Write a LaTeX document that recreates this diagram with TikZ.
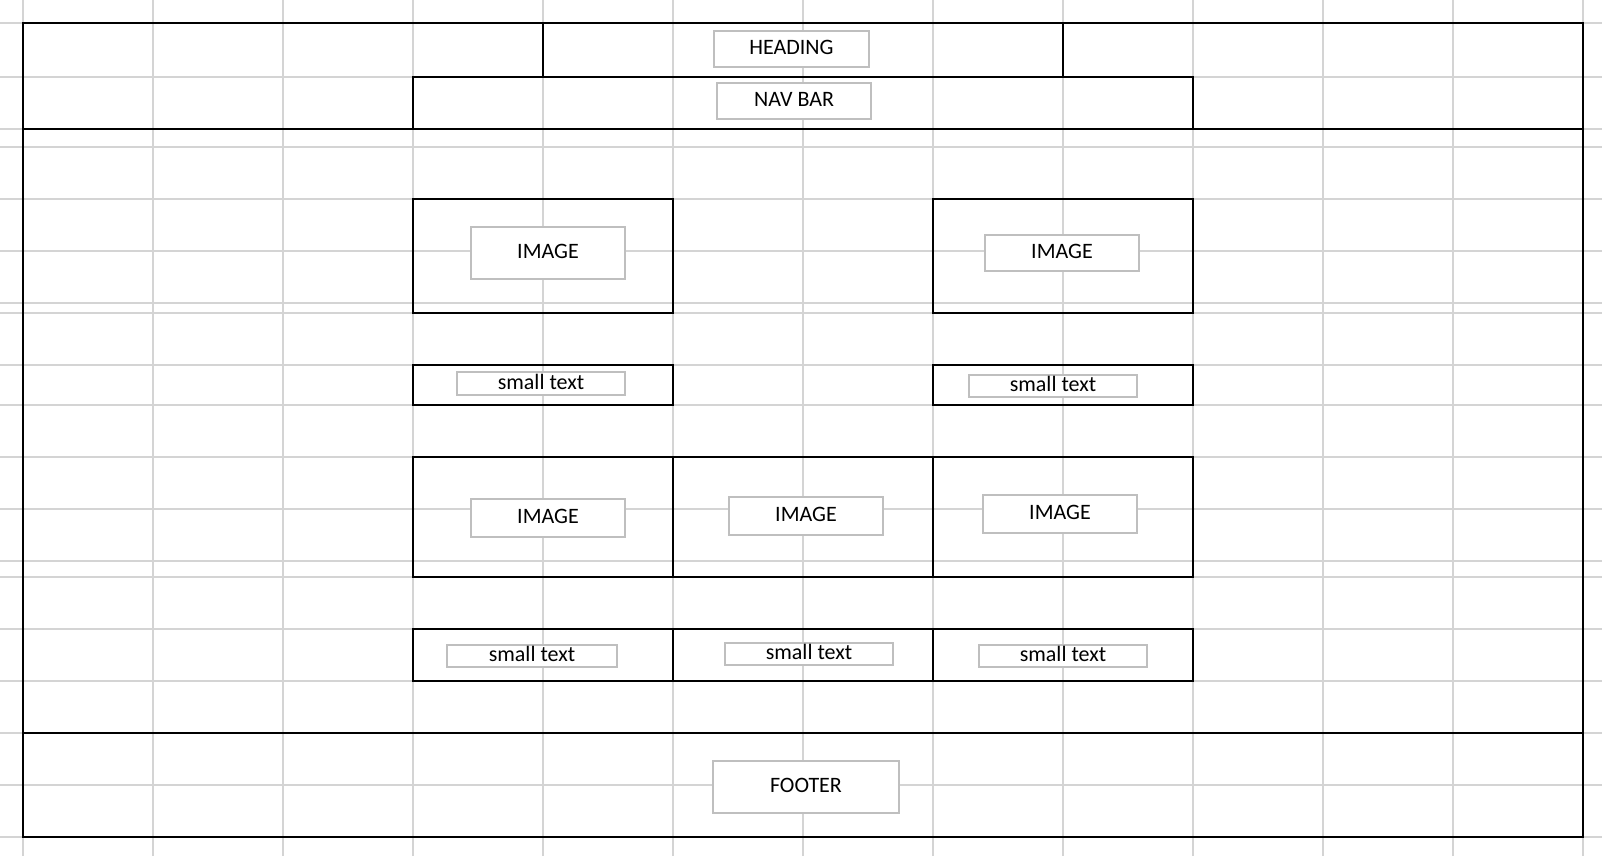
\documentclass[tikz,border=0pt]{standalone}
\usepackage{fontspec}
\setmainfont{Carlito}
\definecolor{gridgray}{RGB}{212,212,212}
\definecolor{boxgray}{RGB}{191,191,191}
\begin{document}
\begin{tikzpicture}[x=0.5pt,y=-0.5pt,
  grid/.style={draw=gridgray,line width=0.7pt},
  cell/.style={draw=black,line width=1.05pt},
  tbox/.style={draw=boxgray,fill=white,line width=0.75pt,inner sep=0pt,
    text depth=2pt,font=\fontsize{11pt}{12pt}\selectfont,text=black},
]
\useasboundingbox (0,0) rectangle (1602,856);
\fill[white] (0,0) rectangle (1602,856);
% spreadsheet grid
\foreach \k in {0,...,12} \draw[grid] ({23+130*\k},0) -- ({23+130*\k},856);
\foreach \yy in {23,77,129,147,199,251,303,313,365,405,457,509,561,577,629,681,733,785,837}
  \draw[grid] (0,\yy) -- (1602,\yy);
% black cell borders
\draw[cell] (23,23) rectangle (1583,837);
\draw[cell] (543,23) -- (543,77) (1063,23) -- (1063,77);
\draw[cell] (413,129) -- (413,77) -- (1193,77) -- (1193,129);
\draw[cell] (23,129) -- (1583,129);
\draw[cell] (413,199) rectangle (673,313);
\draw[cell] (933,199) rectangle (1193,313);
\draw[cell] (413,365) rectangle (673,405);
\draw[cell] (933,365) rectangle (1193,405);
\draw[cell] (413,457) rectangle (673,577);
\draw[cell] (673,457) rectangle (933,577);
\draw[cell] (933,457) rectangle (1193,577);
\draw[cell] (413,629) rectangle (673,681);
\draw[cell] (673,629) rectangle (933,681);
\draw[cell] (933,629) rectangle (1193,681);
\draw[cell] (23,733) -- (1583,733);
% text boxes
\node[tbox,minimum width=77.5pt,minimum height=18pt] (heading) at (791.5,49) {HEADING};
\node[tbox,minimum width=77pt,minimum height=18pt] (navbar) at (794,101) {NAV BAR};
\node[tbox,minimum width=77pt,minimum height=26pt] (img1) at (548,253) {IMAGE};
\node[tbox,minimum width=77pt,minimum height=18pt] (img2) at (1062,253) {IMAGE};
\node[tbox,minimum width=84pt,minimum height=11.5pt] (st1) at (541,383.5) {small text};
\node[tbox,minimum width=84pt,minimum height=11pt] (st2) at (1053,386) {small text};
\node[tbox,minimum width=77pt,minimum height=19pt] (img3) at (548,518) {IMAGE};
\node[tbox,minimum width=77pt,minimum height=19pt] (img4) at (806,516) {IMAGE};
\node[tbox,minimum width=77pt,minimum height=19pt] (img5) at (1060,514) {IMAGE};
\node[tbox,minimum width=85pt,minimum height=11pt] (st3) at (532,656) {small text};
\node[tbox,minimum width=84pt,minimum height=11pt] (st4) at (809,654) {small text};
\node[tbox,minimum width=84pt,minimum height=11pt] (st5) at (1063,656) {small text};
\node[tbox,minimum width=93pt,minimum height=26pt] (footer) at (806,787) {FOOTER};
\end{tikzpicture}
\end{document}
